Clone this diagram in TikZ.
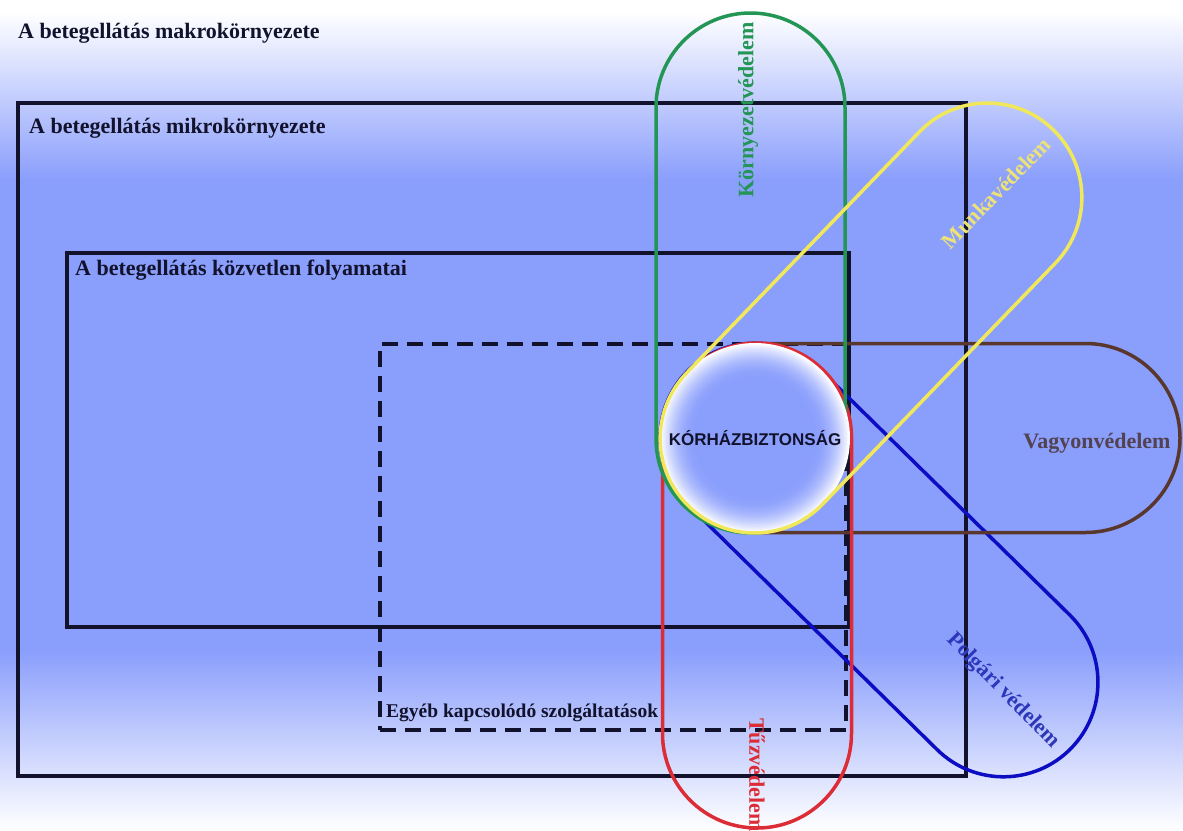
\documentclass[tikz,border=0pt]{standalone}
\usepackage{fontspec}
\setmainfont{Liberation Serif}
\newfontfamily\labelsans{Liberation Sans}
\usetikzlibrary{shapes.misc}

\definecolor{bgblue}{RGB}{138,158,252}
\definecolor{ink}{RGB}{18,18,45}
\definecolor{envgreen}{RGB}{35,150,85}
\definecolor{workyellow}{RGB}{240,232,90}
\definecolor{workyellowtext}{RGB}{236,226,120}
\definecolor{firered}{RGB}{220,45,55}
\definecolor{propbrown}{RGB}{90,55,45}
\definecolor{proptext}{RGB}{82,66,82}
\definecolor{civilblue}{RGB}{12,12,195}
\definecolor{civiltext}{RGB}{45,55,185}

\tikzset{
  frame/.style={draw=ink, line width=3.5pt, rectangle, inner sep=0pt},
  dashframe/.style={draw=ink, line width=4pt, rectangle, inner sep=0pt, dash pattern=on 16pt off 9pt},
  areatitle/.style={text=ink, font=\bfseries\fontsize{22}{26}\selectfont, inner sep=0pt},
  pill/.style={rounded rectangle, draw, line width=3.5pt, inner sep=0pt, minimum height=189pt},
  pilltext/.style={font=\bfseries\fontsize{22}{26}\selectfont, inner sep=0pt},
}

\begin{document}
\begin{tikzpicture}[x=1pt,y=-1pt]
\useasboundingbox (0,0) rectangle (1183,830);
\clip (0,0) rectangle (1183,830);

% background: white at top and bottom, blue in the middle
\fill[white] (0,0) rectangle (1183,12);
\shade[top color=white, bottom color=bgblue] (0,12) rectangle (1183,180);
\fill[bgblue] (0,179) rectangle (1183,651);
\shade[top color=bgblue, bottom color=white] (0,650) rectangle (1183,830);

% nested areas of patient care
\node[frame, minimum width=948pt, minimum height=673pt] (micro) at (492,439.5) {};
\node[frame, minimum width=782pt, minimum height=374pt] (direct) at (458,440) {};
\node[dashframe, minimum width=466pt, minimum height=386pt] (other) at (613,537) {};

\node[areatitle, anchor=base west] (macrotitle) at (18,38) {A betegellátás makrokörnyezete};
\node[areatitle, anchor=base west] (microtitle) at (29,133) {A betegellátás mikrokörnyezete};
\node[areatitle, anchor=base west] (directtitle) at (75,275) {A betegellátás közvetlen folyamatai};
\node[areatitle, anchor=base west, font=\bfseries\fontsize{19.5}{23}\selectfont] (othertitle) at (386,717) {Egyéb kapcsolódó szolgáltatások};

% protection domains lying under the central disc
\node[pill, draw=civilblue, minimum width=538pt, rotate=-44.5] (civil) at (879,560) {};
\node[pill, draw=propbrown, minimum width=519pt] (property) at (920.5,438) {};
\node[pill, draw=firered, minimum width=485pt, rotate=90] (fire) at (757,585.5) {};
\node[pill, draw=envgreen, minimum width=520pt, rotate=90] (environment) at (750.5,273) {};

% central disc: white rim fading into blue, built from concentric discs
\coordinate (corecentre) at (755,438);
\foreach \i [evaluate=\i as \rr using {95-1.5*\i},
             evaluate=\i as \pp using {100*(1-\i/24)*(1-\i/24)}] in {0,...,24}
  \fill[white!\pp!bgblue] (corecentre) circle[radius=\rr pt];
\node[circle, minimum size=190pt, inner sep=0pt, text=ink,
      font=\labelsans\bfseries\fontsize{17}{20}\selectfont] (core) at (corecentre) {KÓRHÁZBIZTONSÁG};

% occupational safety lies over the disc
\node[pill, draw=workyellow, minimum width=524pt, rotate=46] (work) at (871,318) {};

\node[pilltext, text=envgreen, rotate=90] (envlabel) at (748,110) {Környezetvédelem};
\node[pilltext, text=workyellowtext, rotate=46] (worklabel) at (996,193) {Munkavédelem};
\node[pilltext, text=proptext] (proplabel) at (1097,443) {Vagyonvédelem};
\node[pilltext, text=civiltext, rotate=-45.8] (civillabel) at (1003,691) {Polgári védelem};
\node[pilltext, text=firered, rotate=-90, anchor=west] (firelabel) at (757,718) {Tűzvédelem};
\end{tikzpicture}
\end{document}
